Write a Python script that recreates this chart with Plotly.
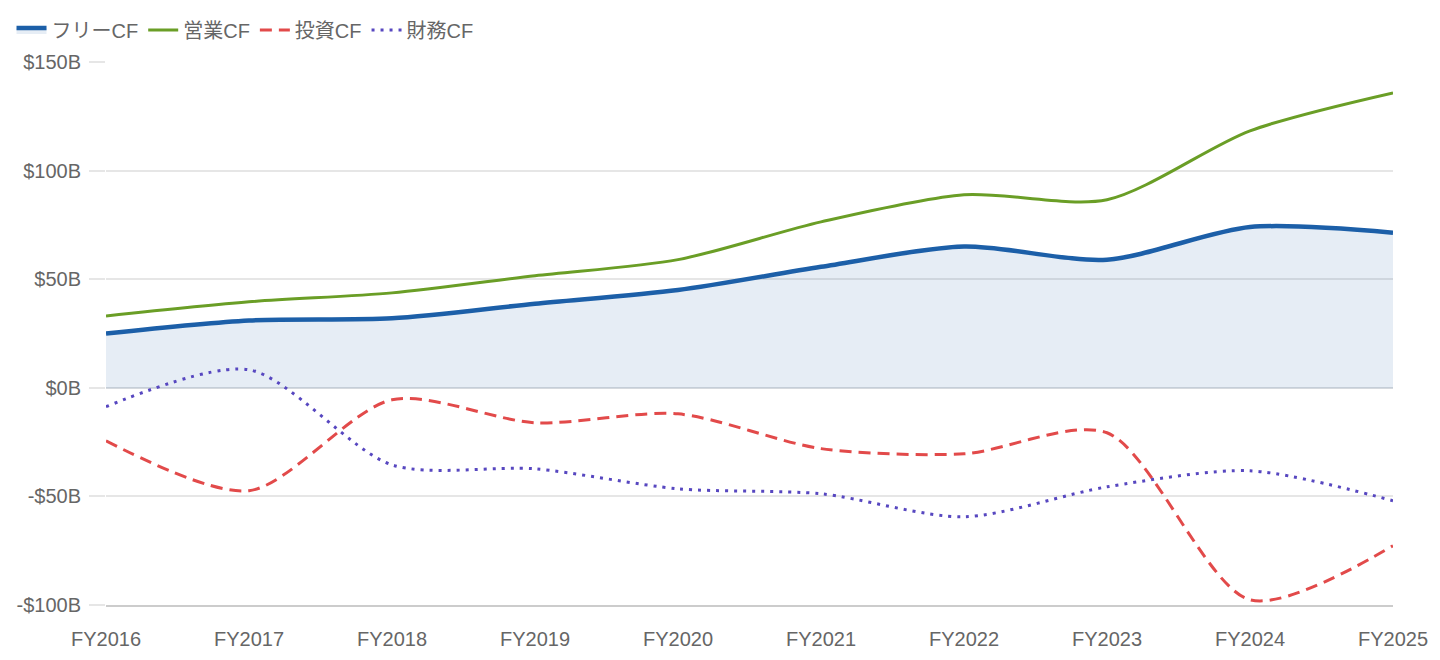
import plotly.graph_objects as go

years = ["FY2016", "FY2017", "FY2018", "FY2019", "FY2020", "FY2021", "FY2022", "FY2023", "FY2024", "FY2025"]
free_cf = [25, 31, 32, 38.7, 45, 55.7, 65, 59, 74, 71.4]
operating_cf = [33.1, 39.6, 43.7, 51.6, 59, 76.4, 88.9, 86.6, 118.3, 135.8]
investing_cf = [-24.4, -47.4, -5.5, -16.1, -12, -28, -30.4, -20.7, -97.6, -72.7]
financing_cf = [-8.7, 8.3, -35.5, -37.3, -46.5, -48.8, -59.4, -45.6, -38.2, -52]

font_family = "Liberation Sans, Noto Sans CJK JP, sans-serif"
text_color = "#666666"
fs = 20

fig = go.Figure()
fig.add_trace(go.Scatter(
    x=years, y=free_cf, name="フリーCF", mode="lines",
    line=dict(color="#1c5fa8", width=4.5, shape="spline", smoothing=0.8),
    fill="tozeroy", fillcolor="rgba(28,95,168,0.11)",
))
fig.add_trace(go.Scatter(
    x=years, y=operating_cf, name="営業CF", mode="lines",
    line=dict(color="#6a9e26", width=3, shape="spline", smoothing=0.8),
))
fig.add_trace(go.Scatter(
    x=years, y=investing_cf, name="投資CF", mode="lines",
    line=dict(color="#e24a4a", width=3, shape="spline", smoothing=0.8, dash="12px,7px"),
))
fig.add_trace(go.Scatter(
    x=years, y=financing_cf, name="財務CF", mode="lines",
    line=dict(color="#5747c0", width=3, shape="spline", smoothing=0.8, dash="3px,6px"),
))

fig.update_layout(
    width=1440, height=660,
    margin=dict(l=106, r=47, t=62, b=55, autoexpand=False),
    paper_bgcolor="white", plot_bgcolor="white",
    font=dict(family=font_family, size=fs, color=text_color),
    showlegend=True,
    legend=dict(orientation="h", xref="container", yref="container",
                x=0.008, xanchor="left", y=1 - 30 / 660, yanchor="middle",
                font=dict(size=fs, color=text_color), itemwidth=30,
                tracegroupgap=0, bgcolor="rgba(0,0,0,0)"),
    hovermode="x unified",
)

fig.update_xaxes(
    range=[0, 9], showgrid=False, showline=True, linecolor="#cccccc", linewidth=1.5,
    ticks="", ticklabelstandoff=15, tickfont=dict(size=fs, color=text_color),
    zeroline=False, automargin=False,
)
fig.update_yaxes(
    range=[-100, 150], tickvals=[-100, -50, 0, 50, 100, 150],
    ticktext=["-$100B", "-$50B", "$0B", "$50B", "$100B", "$150B"],
    showgrid=True, gridcolor="#e6e6e6", gridwidth=1.5,
    zeroline=True, zerolinecolor="#d5d9de", zerolinewidth=1.5,
    ticks="outside", ticklen=16, tickcolor="#e6e6e6", tickwidth=1.5,
    ticklabelstandoff=4,
    tickfont=dict(size=fs, color=text_color), automargin=False,
)

fig.write_html("out.html")
